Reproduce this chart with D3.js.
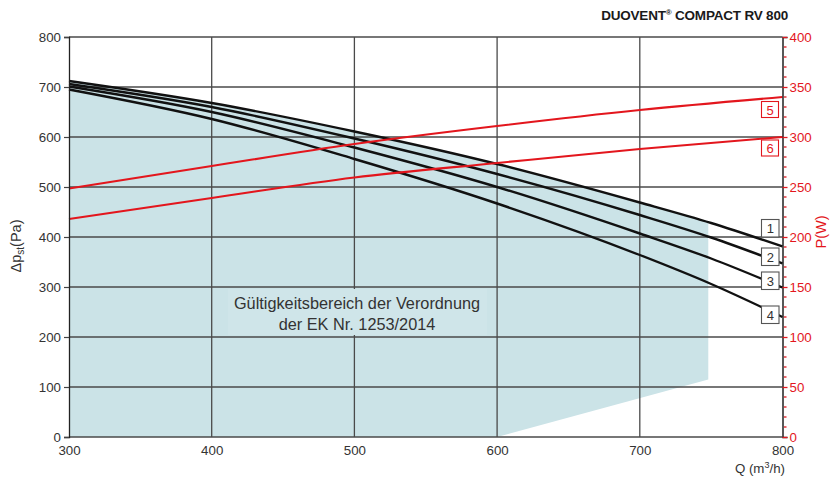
<!DOCTYPE html>
<html>
<head>
<meta charset="utf-8">
<script src="https://cdn.jsdelivr.net/npm/d3@7"></script>
<style>
  body { margin: 0; background: #fff; }
  svg { display: block; font-family: "Liberation Sans", Arial, Helvetica, sans-serif; }
</style>
</head>
<body>
<svg id="chart" width="830" height="478"></svg>
<script>
// ---------- data ----------
const flowQ = [300, 400, 500, 600, 700, 750, 800];           // m³/h
const curve1 = [712, 668, 611, 546, 469, 428, 381];           // Pa
const curve2 = [706, 660, 597, 526, 444, 399, 347];
const curve3 = [701, 650, 579, 500, 407, 357, 299];
const curve4 = [695, 636, 556, 467, 364, 306, 240];

const powerQ = [300, 400, 500, 600, 700, 800];
const power5 = [248.5, 271, 293, 311, 327, 340];               // W
const power6 = [218, 239, 259.5, 274, 288, 300];

// validity range region (Q, Pa) — top follows curve 1
const regionMaxQ = 748;
const regionBottom = [[600, 0], [748, 115]];

const pressureTicks = [0, 100, 200, 300, 400, 500, 600, 700, 800];
const flowTicks = [300, 400, 500, 600, 700, 800];
const powerTicks = [0, 50, 100, 150, 200, 250, 300, 350, 400];

const curveLabels = ["1", "2", "3", "4"];
const curveLabelPa = [417, 360, 312, 244];
const powerLabels = ["5", "6"];
const powerLabelW = [327.5, 289];

const title = "DUOVENT";
const titleRest = " COMPACT RV 800";
const noteLines = ["Gültigkeitsbereich der Verordnung", "der EK Nr. 1253/2014"];

// ---------- layout ----------
const svg = d3.select("#chart");
const x = d3.scaleLinear().domain([300, 800]).range([69, 782.5]);
const yP = d3.scaleLinear().domain([0, 800]).range([437, 37]);
const yW = d3.scaleLinear().domain([0, 400]).range([437, 37]);

const shade = "#cbe3e7";
const gridCol = "#4a4a4a";
const red = "#e3161d";
const textCol = "#333";

// ---------- validity region ----------
const c1Interp = q => {
  for (let i = 0; i < flowQ.length - 1; i++) {
    if (q >= flowQ[i] && q <= flowQ[i + 1]) {
      const t = (q - flowQ[i]) / (flowQ[i + 1] - flowQ[i]);
      return curve1[i] + t * (curve1[i + 1] - curve1[i]);
    }
  }
  return curve1[curve1.length - 1];
};
const topPts = flowQ.filter(q => q < regionMaxQ).map((q, i) => [q, curve1[i]]);
topPts.push([regionMaxQ, c1Interp(regionMaxQ)]);
const regionPts = [[300, 0], ...topPts, regionBottom[1], regionBottom[0]];
svg.append("path")
  .attr("d", d3.line().x(d => x(d[0])).y(d => yP(d[1])).curve(d3.curveLinear)(regionPts))
  .attr("fill", shade);

// ---------- grid ----------
const grid = svg.append("g");
grid.selectAll("line.h").data(pressureTicks).join("line")
  .attr("x1", x(300)).attr("x2", x(800))
  .attr("y1", d => yP(d)).attr("y2", d => yP(d))
  .attr("stroke", gridCol).attr("stroke-width", 1.3);
grid.selectAll("line.v").data(flowTicks.slice(1, -1)).join("line")
  .attr("x1", d => x(d)).attr("x2", d => x(d))
  .attr("y1", yP(0)).attr("y2", yP(800))
  .attr("stroke", gridCol).attr("stroke-width", 1.3);

// ---------- note box ----------
svg.append("rect")
  .attr("x", 228).attr("y", 289).attr("width", 259).attr("height", 46)
  .attr("fill", "#cfe5e9");
svg.append("g").selectAll("text").data(noteLines).join("text")
  .attr("x", 357).attr("y", (d, i) => 309 + i * 20.5)
  .attr("text-anchor", "middle").attr("font-size", 16.3).attr("fill", textCol)
  .text(d => d);

// ---------- curves ----------
const lineP = d3.line().x(d => x(d[0])).y(d => yP(d[1])).curve(d3.curveMonotoneX);
[curve1, curve2, curve3, curve4].forEach(c => {
  svg.append("path").attr("d", lineP(flowQ.map((q, i) => [q, c[i]])))
    .attr("fill", "none").attr("stroke", "#111").attr("stroke-width", 2.4);
});
const lineW = d3.line().x(d => x(d[0])).y(d => yW(d[1])).curve(d3.curveMonotoneX);
[power5, power6].forEach(c => {
  svg.append("path").attr("d", lineW(powerQ.map((q, i) => [q, c[i]])))
    .attr("fill", "none").attr("stroke", red).attr("stroke-width", 2.1);
});

// ---------- axes ----------
// left
const left = svg.append("g").attr("transform", `translate(${x(300)},0)`)
  .call(d3.axisLeft(yP).tickValues(pressureTicks).tickSize(5).tickPadding(3));
left.select(".domain").attr("stroke", "#222").attr("stroke-width", 1.3);
left.selectAll(".tick line").attr("stroke", "#444").attr("stroke-width", 1.2);
left.selectAll(".tick text").attr("font-size", 13.3).attr("fill", textCol)
  .attr("font-family", "Liberation Sans, Arial, sans-serif");

// bottom
const bottom = svg.append("g").attr("transform", `translate(0,${yP(0)})`)
  .call(d3.axisBottom(x).tickValues(flowTicks).tickSize(0).tickPadding(9));
bottom.select(".domain").remove();
bottom.selectAll(".tick text").attr("font-size", 13.3).attr("fill", textCol)
  .attr("font-family", "Liberation Sans, Arial, sans-serif");

// right
const right = svg.append("g").attr("transform", `translate(${x(800)},0)`)
  .call(d3.axisRight(yW).tickValues(powerTicks).tickSize(5).tickPadding(2));
right.select(".domain").attr("stroke", "#222").attr("stroke-width", 1.5);
right.selectAll(".tick line").attr("stroke", red).attr("stroke-width", 1.3);
right.selectAll(".tick text").attr("font-size", 13.3).attr("fill", red)
  .attr("font-family", "Liberation Sans, Arial, sans-serif");
const minor = d3.range(0, 401, 10).filter(v => v % 50 !== 0);
svg.append("g").selectAll("line").data(minor).join("line")
  .attr("x1", x(800) + 1.5).attr("x2", x(800) + 4)
  .attr("y1", d => yW(d)).attr("y2", d => yW(d))
  .attr("stroke", red).attr("stroke-width", 1.3);

// axis titles
const yt = svg.append("text")
  .attr("transform", `translate(21,246) rotate(-90)`)
  .attr("text-anchor", "middle").attr("font-size", 14.5).attr("fill", textCol);
yt.append("tspan").text("Δp");
yt.append("tspan").attr("font-size", 10).attr("dy", 3).text("st");
yt.append("tspan").attr("dy", -3).text("(Pa)");

svg.append("text")
  .attr("transform", `translate(826,232) rotate(-90)`)
  .attr("text-anchor", "middle").attr("font-size", 14.5).attr("fill", red)
  .text("P(W)");

const xt = svg.append("text").attr("x", 785).attr("y", 473)
  .attr("text-anchor", "end").attr("font-size", 13.3).attr("fill", textCol);
xt.append("tspan").text("Q (m");
xt.append("tspan").attr("font-size", 9).attr("dy", -5).text("3");
xt.append("tspan").attr("dy", 5).text("/h)");

// title
const tt = svg.append("text").attr("x", 788).attr("y", 20)
  .attr("text-anchor", "end").attr("font-size", 13.5).attr("font-weight", "bold")
  .attr("fill", "#1a1a1a").attr("letter-spacing", -0.2);
tt.append("tspan").text(title);
tt.append("tspan").attr("font-size", 8).attr("dy", -5).text("®");
tt.append("tspan").attr("dy", 5).text(titleRest);

// ---------- label boxes ----------
const bx = x(800) - 21;
const lb = svg.append("g").selectAll("g").data(curveLabels).join("g")
  .attr("transform", (d, i) => `translate(${bx},${yP(curveLabelPa[i]) - 9})`);
lb.append("rect").attr("width", 17.5).attr("height", 17.5)
  .attr("fill", "#fff").attr("stroke", "#555").attr("stroke-width", 1.1);
lb.append("text").attr("x", 8.75).attr("y", 13.5).attr("text-anchor", "middle")
  .attr("font-size", 13).attr("fill", textCol).text(d => d);

const pb = svg.append("g").selectAll("g").data(powerLabels).join("g")
  .attr("transform", (d, i) => `translate(${bx},${yW(powerLabelW[i]) - 8})`);
pb.append("rect").attr("width", 17).attr("height", 16)
  .attr("fill", "#fff").attr("stroke", red).attr("stroke-width", 1.1);
pb.append("text").attr("x", 8.5).attr("y", 13).attr("text-anchor", "middle")
  .attr("font-size", 13).attr("fill", red).text(d => d);
</script>
</body>
</html>
